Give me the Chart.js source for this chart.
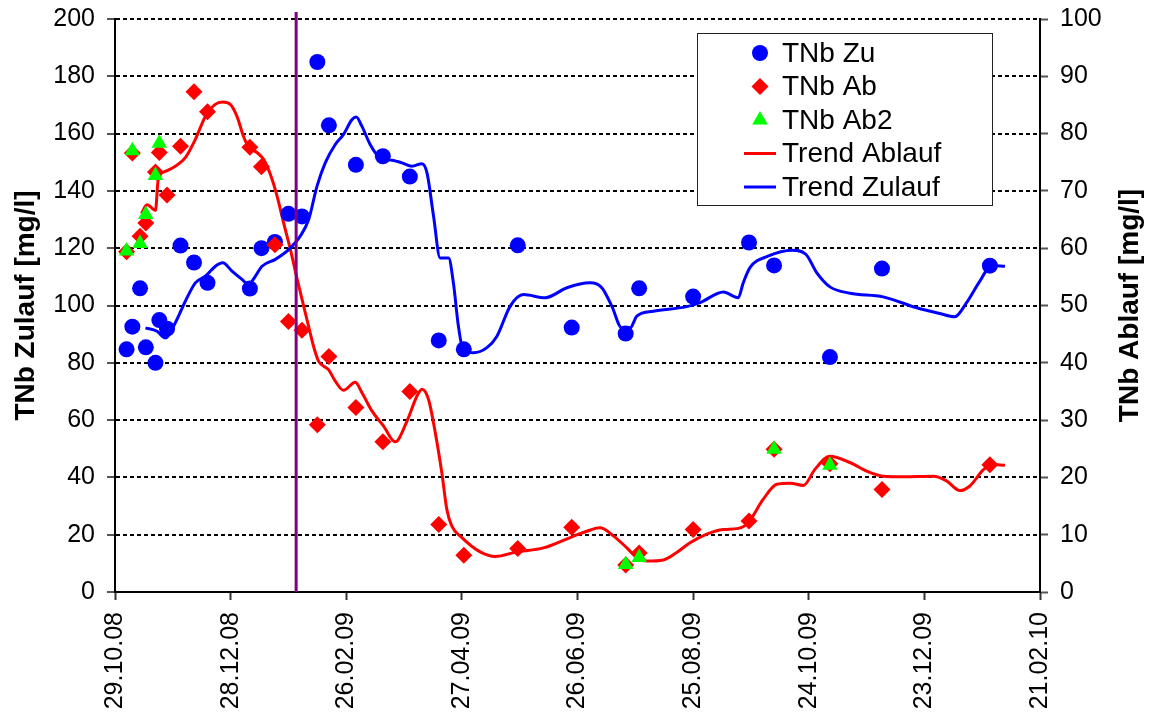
<!DOCTYPE html>
<html>
<head>
<meta charset="utf-8">
<title>TNb Zulauf / Ablauf</title>
<script src="https://cdn.jsdelivr.net/npm/chart.js@4.4.1/dist/chart.umd.min.js"></script>
<style>
  html, body { margin: 0; padding: 0; background: #fff; }
  #wrap { width: 1151px; height: 718px; }
</style>
</head>
<body>
<div id="wrap"><canvas id="chart" width="1151" height="718"></canvas></div>
<script>
// ---- data ----
const startDate = '29.10.08';
const xTickLabels = ['29.10.08', '28.12.08', '26.02.09', '27.04.09', '26.06.09',
                     '25.08.09', '24.10.09', '23.12.09', '21.02.10'];

// sampling dates shared by inflow (Zu) and outflow (Ab)
const sampleDates = ['04.11.08', '07.11.08', '11.11.08', '14.11.08', '19.11.08', '21.11.08',
  '25.11.08', '02.12.08', '09.12.08', '16.12.08', '07.01.09', '13.01.09', '20.01.09',
  '27.01.09', '03.02.09', '11.02.09', '17.02.09', '03.03.09', '17.03.09', '31.03.09',
  '15.04.09', '28.04.09', '26.05.09', '23.06.09', '21.07.09', '28.07.09', '25.08.09',
  '23.09.09', '06.10.09', '04.11.09', '01.12.09', '26.01.10'];

// TNb Zulauf [mg/l] (left axis)
const tnbZu = [84.7, 92.6, 106.0, 85.4, 80.0, 94.9, 91.9, 120.9, 115.0, 107.9, 105.9, 120.0,
  122.2, 132.0, 131.1, 185.0, 162.9, 149.1, 152.1, 145.0, 87.8, 84.7, 121.0, 92.3, 90.2,
  106.0, 103.1, 122.0, 114.0, 82.0, 112.9, 113.9];

// TNb Ablauf [mg/l] (right axis)
const tnbAb = [59.4, 76.6, 62.1, 64.4, 73.3, 76.7, 69.3, 77.8, 87.3, 83.8, 77.6, 74.2,
  60.6, 47.2, 45.7, 29.2, 41.1, 32.2, 26.2, 35.0, 11.8, 6.4, 7.6, 11.3, 4.7, 6.8, 10.9,
  12.4, 24.9, 22.4, 17.9, 22.2];

// second outflow measurement (right axis)
const ab2Dates = ['04.11.08', '07.11.08', '11.11.08', '14.11.08', '19.11.08', '21.11.08',
  '21.07.09', '28.07.09', '06.10.09', '04.11.09'];
const tnbAb2 = [59.5, 77.0, 60.8, 65.9, 72.7, 78.3, 4.8, 6.0, 24.9, 22.1];

// smoothed trend of the outflow, days after start (right axis)
const trendAblaufDays = [13.7, 16.6, 21.0, 22.4, 26.1, 31.3, 36.5, 41.7, 46.9, 52.0, 55.9, 59.8,
  63.3, 66.7, 69.3, 73.7, 77.1, 80.6, 84.1, 87.5, 91.0, 94.4, 97.9, 101.3, 103.0, 105.6, 110.8,
  114.3, 118.6, 124.7, 128.1, 133.3, 139.3, 145.4, 151.5, 156.7, 159.3, 162.7, 166.2, 169.6,
  172.2, 174.8, 180.0, 189.5, 197.3, 208.5, 222.3, 236.2, 244.8, 251.7, 258.6, 265.6, 270.8,
  275.9, 284.6, 291.5, 298.4, 307.1, 315.7, 323.4, 328.6, 336.4, 343.4, 350.3, 357.2, 363.2,
  371.0, 381.4, 390.0, 398.6, 409.0, 424.6, 431.5, 438.4, 443.6, 450.5, 454.9, 461.8];
const trendAblaufValues = [66.0, 67.6, 66.6, 71.9, 73.4, 74.3, 75.8, 79.0, 83.0, 85.1, 85.5, 85.1,
  83.0, 79.5, 77.7, 76.7, 75.5, 72.9, 69.1, 64.4, 59.8, 54.8, 49.9, 45.2, 42.9, 40.3, 38.8,
  36.8, 35.2, 36.6, 34.8, 31.6, 29.0, 26.2, 29.8, 34.2, 35.4, 33.6, 27.8, 20.8,
  14.4, 11.5, 9.5, 7.0, 6.2, 7.0, 7.7, 9.5, 10.6, 11.2, 9.8, 7.7, 6.0,
  5.4, 5.6, 6.9, 8.6, 10.1, 10.9, 11.1, 12.1, 16.2, 18.8, 19.0, 18.6, 21.4,
  23.7, 22.6, 21.1, 20.2, 20.1, 20.2, 19.4, 17.7, 18.5, 21.3, 22.3, 22.1];

// smoothed trend of the inflow, days after start (left axis)
const trendZulaufDays = [15.8, 21.8, 26.1, 31.3, 36.5, 41.7, 46.9, 52.1, 55.9, 60.7, 65.9, 69.3,
  72.8, 76.3, 83.2, 90.1, 96.1, 100.5, 104.8, 109.1, 114.3, 118.6, 123.0, 125.2, 128.1, 132.4,
  137.6, 143.7, 148.9, 154.1, 159.3, 161.9, 165.3, 168.7, 173.1, 175.6, 178.2, 180.8, 186.0,
  193.0, 198.2, 205.1, 212.0, 223.2, 234.5, 246.5, 252.6, 257.8, 263.0, 267.3, 270.8, 279.4,
  296.7, 303.6, 315.7, 323.4, 326.0, 329.5, 338.8, 351.5, 358.6, 364.1, 371.0, 381.4, 398.6,
  416.0, 428.0, 435.8, 441.9, 448.8, 454.9, 461.8];
const trendZulaufValues = [92.2, 91.0, 88.7, 94.0, 101.5, 107.9, 110.2, 113.7, 114.9, 112.0, 109.1, 107.3,
  110.2, 113.7, 116.1, 119.5, 124.2, 130.0, 141.6, 149.8, 156.2, 159.7, 164.9, 165.8, 162.6, 156.2,
  151.5, 150.7, 149.8, 148.6, 149.5, 146.3, 131.2, 116.6, 116.6, 107.9, 92.8, 84.2, 83.5,
  85.3, 89.3, 99.8, 103.8, 102.7, 106.2, 107.9, 106.2, 99.8, 92.2, 92.2, 96.3, 98.0,
  99.6, 101.0, 104.7, 102.7, 107.9, 113.2, 117.2, 119.3, 117.8, 111.5, 106.5, 104.3, 103.0,
  99.2, 97.2, 96.1, 101.0, 108.5, 114.0, 113.7];

// date of the process change (vertical marker)
const markerDate = '31.01.09';

// ---- helpers ----
function utcOf(s) {
  const [d, m, y] = s.split('.').map(Number);
  return Date.UTC(2000 + y, m - 1, d);
}
const DAY = 86400000;
const startMs = utcOf(startDate);
function dayOf(s) { return Math.round((utcOf(s) - startMs) / DAY); }

const FONT = "'Liberation Sans', Arial, Helvetica, sans-serif";
Chart.defaults.font.family = FONT;
Chart.defaults.color = '#000';

const points = (dates, vals) => dates.map((d, i) => ({ x: dayOf(d), y: vals[i] }));
const curve = (days, vals) => days.map((d, i) => ({ x: d, y: vals[i] }));

// ---- marker glyphs for the legend ----
function glyph(ctx, style, x, y, r) {
  ctx.beginPath();
  if (style === 'circle') {
    ctx.arc(x, y, r, 0, Math.PI * 2);
  } else if (style === 'rectRot') {
    ctx.moveTo(x - r, y); ctx.lineTo(x, y - r); ctx.lineTo(x + r, y); ctx.lineTo(x, y + r);
    ctx.closePath();
  } else if (style === 'triangle') {
    const a = Math.PI * 2 / 3;
    ctx.moveTo(x, y - r);
    ctx.lineTo(x + Math.sin(a) * r, y - Math.cos(a) * r);
    ctx.lineTo(x + Math.sin(2 * a) * r, y - Math.cos(2 * a) * r);
    ctx.closePath();
  }
  ctx.fill();
}

// vertical marker, rotated axis titles and the framed legend
const overlay = {
  id: 'overlay',
  afterDatasetsDraw(chart) {
    const { ctx, chartArea: a, scales } = chart;
    const px = scales.x.getPixelForValue(dayOf(markerDate));
    ctx.save();
    ctx.strokeStyle = '#800080';
    ctx.lineWidth = 3;
    ctx.beginPath();
    ctx.moveTo(px, a.top - 7);
    ctx.lineTo(px, a.bottom);
    ctx.stroke();
    ctx.restore();
  },
  afterDraw(chart) {
    const { ctx, chartArea: a } = chart;
    const cy = (a.top + a.bottom) / 2;
    ctx.save();
    ctx.fillStyle = '#000';
    ctx.font = 'bold 28px ' + FONT;
    ctx.textAlign = 'center';
    ctx.textBaseline = 'middle';
    [[26, 'TNb Zulauf [mg/l]'], [a.right + 90, 'TNb Ablauf [mg/l]']].forEach(([tx, t]) => {
      ctx.save();
      ctx.translate(tx, cy);
      ctx.rotate(-Math.PI / 2);
      ctx.fillText(t, 0, 0);
      ctx.restore();
    });

    // legend
    const bx = a.left + 582, by = a.top + 14, bw = 295, bh = 172;
    ctx.fillStyle = '#fff';
    ctx.fillRect(bx, by, bw, bh);
    ctx.strokeStyle = '#222';
    ctx.lineWidth = 1;
    ctx.strokeRect(bx + 0.5, by + 0.5, bw, bh);
    ctx.font = '28px ' + FONT;
    ctx.textAlign = 'left';
    ctx.textBaseline = 'middle';
    chart.data.datasets.forEach((ds, i) => {
      const ry = by + 20 + i * 33.5;
      const mx = bx + 63;
      if (ds.showLine === false) {
        ctx.fillStyle = ds.backgroundColor;
        glyph(ctx, ds.pointStyle, mx, ry, ds.pointRadius);
      } else {
        ctx.strokeStyle = ds.borderColor;
        ctx.lineWidth = ds.borderWidth;
        ctx.beginPath();
        ctx.moveTo(mx - 16, ry);
        ctx.lineTo(mx + 16, ry);
        ctx.stroke();
      }
      ctx.fillStyle = '#000';
      ctx.fillText(ds.label, bx + 85, ry + 1);
    });
    ctx.restore();
  }
};

new Chart(document.getElementById('chart'), {
  type: 'line',
  data: {
    datasets: [
      {
        label: 'TNb Zu', data: points(sampleDates, tnbZu), yAxisID: 'y',
        showLine: false, pointStyle: 'circle', pointRadius: 8,
        backgroundColor: '#0000FF', borderColor: '#0000FF', pointBorderWidth: 0, order: 2
      },
      {
        label: 'TNb Ab', data: points(sampleDates, tnbAb), yAxisID: 'y2',
        showLine: false, pointStyle: 'rectRot', pointRadius: 8.5,
        backgroundColor: '#FF0000', borderColor: '#FF0000', pointBorderWidth: 0, order: 1
      },
      {
        label: 'TNb Ab2', data: points(ab2Dates, tnbAb2), yAxisID: 'y2',
        showLine: false, pointStyle: 'triangle', pointRadius: 9,
        backgroundColor: '#00FF00', borderColor: '#00FF00', pointBorderWidth: 0, order: 0
      },
      {
        label: 'Trend Ablauf', data: curve(trendAblaufDays, trendAblaufValues), yAxisID: 'y2',
        borderColor: '#FF0000', borderWidth: 3, pointRadius: 0,
        cubicInterpolationMode: 'monotone', fill: false, order: 4
      },
      {
        label: 'Trend Zulauf', data: curve(trendZulaufDays, trendZulaufValues), yAxisID: 'y',
        borderColor: '#0000FF', borderWidth: 3, pointRadius: 0,
        cubicInterpolationMode: 'monotone', fill: false, order: 3
      }
    ]
  },
  options: {
    responsive: false,
    animation: false,
    devicePixelRatio: 1,
    layout: { padding: { top: 19, right: 0, bottom: 0, left: 0 } },
    plugins: { legend: { display: false }, tooltip: { enabled: false } },
    scales: {
      x: {
        type: 'linear',
        min: 0,
        max: dayOf(xTickLabels[xTickLabels.length - 1]),
        afterBuildTicks(s) { s.ticks = xTickLabels.map(l => ({ value: dayOf(l) })); },
        afterFit(s) { s.height = 126; },
        ticks: {
          autoSkip: false, minRotation: 90, maxRotation: 90, padding: 12,
          font: { size: 25 }, color: '#000',
          callback: (v, i) => xTickLabels[i]
        },
        grid: { drawOnChartArea: false, drawTicks: true, tickLength: 8, tickColor: '#333', tickWidth: 2 },
        border: { display: true, color: '#000', width: 2 }
      },
      y: {
        position: 'left',
        min: 0, max: 200,
        afterFit(s) { s.width = 115; s.paddingTop = 0; s.paddingBottom = 0; },
        ticks: { stepSize: 20, padding: 12, font: { size: 25 }, color: '#000' },
        grid: {
          color: '#000', lineWidth: 2, tickLength: 8, tickColor: '#555', tickWidth: 2, tickBorderDash: []
        },
        border: { display: true, color: '#000', width: 2, dash: [4, 3] }
      },
      y2: {
        position: 'right',
        min: 0, max: 100,
        afterFit(s) { s.width = 111; s.paddingTop = 0; s.paddingBottom = 0; },
        ticks: { stepSize: 10, padding: 12, font: { size: 25 }, color: '#000' },
        grid: { drawOnChartArea: false, tickLength: 8, tickColor: '#555', tickWidth: 2 },
        border: { display: true, color: '#000', width: 2 }
      }
    }
  },
  plugins: [overlay]
});
</script>
</body>
</html>
